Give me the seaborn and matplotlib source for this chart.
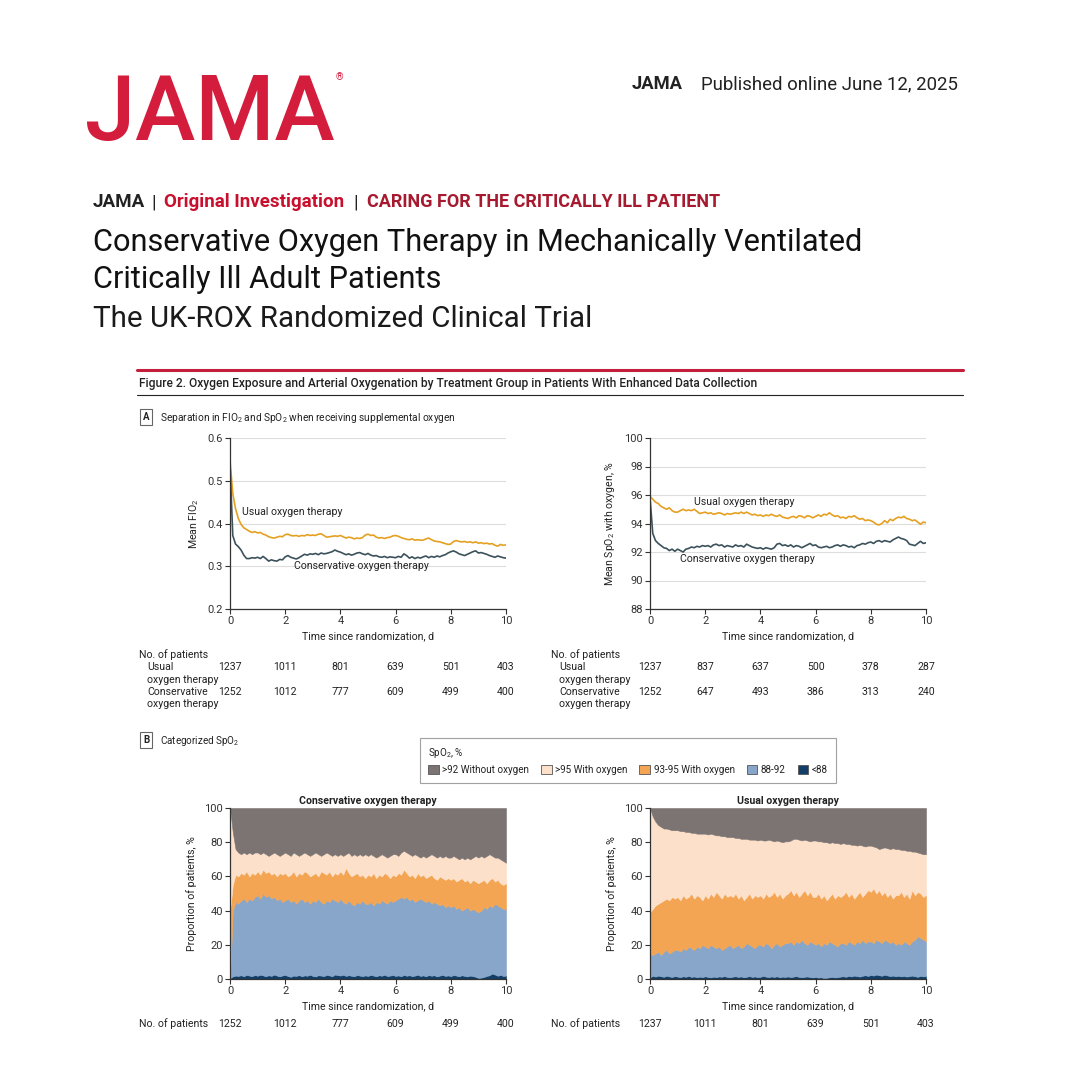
import numpy as np
import matplotlib
matplotlib.use('Agg')
import matplotlib.pyplot as plt
import matplotlib.transforms as mtransforms
from matplotlib.patches import Patch
from matplotlib.ticker import FormatStrFormatter
import seaborn as sns

# ---- data (0.1-day grid, days 0-10) ----
days = np.round(np.arange(0, 10.01, 0.1), 1)
day_ticks = [0, 2, 4, 6, 8, 10]

fio2_usual = [
    0.548, 0.470, 0.435, 0.412, 0.398, 0.390, 0.386, 0.382, 0.379, 0.381,
    0.378, 0.379, 0.375, 0.373, 0.369, 0.367, 0.366, 0.368, 0.370, 0.369,
    0.374, 0.375, 0.372, 0.371, 0.372, 0.370, 0.372, 0.371, 0.374, 0.372,
    0.373, 0.372, 0.375, 0.376, 0.372, 0.368, 0.369, 0.370, 0.371, 0.370,
    0.372, 0.369, 0.366, 0.368, 0.367, 0.364, 0.366, 0.365, 0.367, 0.373,
    0.375, 0.372, 0.373, 0.368, 0.366, 0.367, 0.365, 0.367, 0.368, 0.371,
    0.372, 0.370, 0.367, 0.365, 0.363, 0.362, 0.364, 0.361, 0.362, 0.361,
    0.361, 0.364, 0.366, 0.362, 0.359, 0.358, 0.357, 0.355, 0.353, 0.351,
    0.352, 0.358, 0.360, 0.358, 0.357, 0.358, 0.356, 0.357, 0.355, 0.357,
    0.354, 0.355, 0.353, 0.354, 0.352, 0.353, 0.349, 0.347, 0.351, 0.349,
    0.350]
fio2_conservative = [
    0.540, 0.372, 0.352, 0.346, 0.338, 0.326, 0.318, 0.318, 0.320, 0.319,
    0.321, 0.318, 0.323, 0.318, 0.312, 0.315, 0.313, 0.312, 0.316, 0.315,
    0.322, 0.325, 0.321, 0.319, 0.317, 0.320, 0.324, 0.328, 0.326, 0.329,
    0.328, 0.330, 0.327, 0.331, 0.329, 0.330, 0.332, 0.334, 0.338, 0.335,
    0.333, 0.330, 0.327, 0.329, 0.326, 0.328, 0.331, 0.332, 0.329, 0.327,
    0.330, 0.326, 0.324, 0.325, 0.322, 0.321, 0.323, 0.320, 0.322, 0.321,
    0.320, 0.323, 0.321, 0.329, 0.325, 0.319, 0.322, 0.318, 0.321, 0.319,
    0.322, 0.324, 0.320, 0.323, 0.321, 0.324, 0.322, 0.325, 0.327, 0.331,
    0.334, 0.336, 0.333, 0.329, 0.327, 0.325, 0.328, 0.331, 0.334, 0.336,
    0.331, 0.332, 0.330, 0.328, 0.325, 0.323, 0.321, 0.324, 0.322, 0.320,
    0.319]
spo2_usual = [
    95.9, 95.7, 95.5, 95.4, 95.2, 95.1, 95.0, 95.1, 94.9, 94.8,
    94.8, 94.9, 95.0, 94.9, 94.95, 94.9, 95.0, 94.85, 94.7, 94.75,
    94.8, 94.7, 94.75, 94.65, 94.7, 94.75, 94.7, 94.6, 94.7, 94.65,
    94.7, 94.75, 94.7, 94.8, 94.7, 94.8, 94.7, 94.6, 94.65, 94.55,
    94.6, 94.5, 94.6, 94.55, 94.65, 94.55, 94.5, 94.6, 94.45, 94.4,
    94.35, 94.45, 94.5, 94.4, 94.55, 94.5, 94.4, 94.55, 94.5, 94.4,
    94.5, 94.6, 94.5, 94.65, 94.6, 94.75, 94.6, 94.5, 94.55, 94.4,
    94.45, 94.35, 94.5, 94.45, 94.55, 94.4, 94.3, 94.35, 94.2, 94.25,
    94.2, 94.1, 93.95, 93.9, 94.0, 94.2, 94.05, 94.3, 94.2, 94.35,
    94.45, 94.4, 94.5, 94.35, 94.3, 94.2, 94.25, 94.1, 93.95, 94.1,
    94.05]
spo2_conservative = [
    95.8, 93.3, 92.8, 92.6, 92.45, 92.3, 92.25, 92.1, 92.2, 92.05,
    92.2, 92.1, 92.0, 92.2, 92.25, 92.35, 92.3, 92.4, 92.35, 92.45,
    92.4, 92.45, 92.35, 92.5, 92.55, 92.45, 92.5, 92.35, 92.45, 92.4,
    92.35, 92.5, 92.4, 92.45, 92.35, 92.55, 92.45, 92.35, 92.3, 92.25,
    92.3, 92.2, 92.3, 92.25, 92.2, 92.3, 92.55, 92.6, 92.45, 92.5,
    92.4, 92.5, 92.35, 92.45, 92.4, 92.3, 92.4, 92.5, 92.6, 92.45,
    92.5, 92.35, 92.3, 92.35, 92.4, 92.3, 92.35, 92.45, 92.5, 92.4,
    92.5, 92.45, 92.35, 92.4, 92.3, 92.45, 92.5, 92.6, 92.55, 92.65,
    92.7, 92.6, 92.75, 92.8, 92.7, 92.8, 92.75, 92.7, 92.85, 92.95,
    93.05, 92.95, 92.9, 92.8, 92.55, 92.5, 92.45, 92.6, 92.75, 92.6,
    92.65]

# categorized SpO2: cumulative % of patients at or below each band edge
cons_below_88 = [
    0.5, 1.5, 2.0, 1.8, 2.2, 1.6, 2.4, 2.0, 1.7, 2.3,
    1.9, 2.5, 2.1, 1.6, 2.2, 1.8, 2.6, 2.0, 1.5, 2.1,
    2.4, 1.7, 1.3, 2.0, 1.8, 2.3, 1.6, 2.1, 1.9, 2.5,
    1.8, 1.5, 2.2, 2.0, 1.7, 2.4, 2.1, 1.6, 2.6, 2.3,
    2.0, 2.5, 1.8, 2.2, 1.9, 1.6, 2.3, 2.0, 1.7, 2.1,
    1.8, 2.4, 2.0, 1.6, 2.2, 1.9, 2.5, 1.7, 2.0, 2.3,
    1.8, 2.1, 1.6, 2.4, 1.9, 2.2, 1.7, 2.0, 2.5, 1.8,
    2.1, 1.6, 2.3, 1.9, 2.2, 1.5, 2.0, 2.4, 1.8, 2.1,
    1.7, 2.3, 2.0, 1.6, 2.2, 1.8, 1.5, 2.0, 1.7, 1.3,
    0.6, 0.8, 1.2, 1.8, 2.2, 3.2, 2.6, 1.9, 2.4, 1.8,
    2.0]
cons_upto_92 = [
    0.5, 40, 45, 44, 46, 47, 45, 47, 46, 48,
    49, 47, 50, 48, 49, 47, 48, 46, 47, 45,
    46, 47, 45, 46, 44, 46, 47, 45, 46, 44,
    46, 45, 47, 45, 44, 46, 45, 47, 46, 45,
    47, 45, 44, 46, 44, 43, 45, 44, 46, 44,
    44, 45, 43, 45, 44, 46, 45, 44, 46, 45,
    46, 47, 48, 47, 48, 46, 47, 45, 46, 47,
    46, 45, 46, 44, 45, 44, 43, 44, 42, 43,
    42, 43, 41, 42, 40, 41, 42, 40, 41, 40,
    39, 40, 42, 41, 43, 42, 44, 43, 42, 41,
    41]
cons_upto_95 = [
    40, 55, 61, 60, 62, 61, 63, 60, 62, 61,
    63, 61, 64, 62, 63, 61, 62, 60, 62, 61,
    62, 60, 61, 63, 60, 62, 61, 63, 62, 60,
    61, 62, 60, 63, 62, 61, 63, 60, 62, 61,
    63, 61, 65, 62, 60, 61, 62, 60, 61, 59,
    61, 60, 62, 59, 61, 60, 62, 61, 59, 61,
    60, 62, 61, 64, 62, 60, 61, 59, 62, 60,
    61, 59, 60, 61, 59, 58, 60, 59, 58, 59,
    58, 59, 57, 58, 59, 57, 58, 56, 58, 57,
    56, 57, 58, 56, 58, 59, 57, 58, 56, 55,
    56]
cons_with_oxygen = [
    100, 86, 76, 74, 73, 74, 73, 74, 73, 74,
    74, 73, 74, 73, 72, 73, 74, 73, 72, 73,
    74, 73, 72, 74, 73, 72, 73, 74, 73, 72,
    73, 74, 73, 72, 73, 74, 73, 72, 73, 72,
    73, 72, 73, 74, 72, 73, 72, 73, 72, 73,
    72, 73, 72, 71, 72, 73, 72, 71, 72, 73,
    73, 72, 74, 75, 74, 73, 72, 73, 72, 71,
    72, 71, 72, 73, 72, 71, 72, 71, 72, 71,
    71, 72, 71, 70, 71, 70, 71, 70, 71, 72,
    71, 72, 71, 72, 73, 72, 71, 71, 70, 69,
    68]

usual_below_88 = [
    1.0, 1.8, 1.4, 2.0, 1.6, 1.3, 1.9, 1.5, 1.2, 1.7,
    1.4, 1.1, 1.6, 1.3, 1.8, 1.2, 1.5, 1.0, 1.4, 1.1,
    1.6, 1.2, 0.9, 1.4, 1.1, 1.5, 1.3, 1.7, 1.2, 1.0,
    1.4, 1.6, 1.2, 1.5, 1.0, 1.3, 1.7, 1.2, 1.5, 1.1,
    1.3, 1.8, 1.4, 1.1, 1.5, 1.2, 1.6, 1.0, 1.4, 1.2,
    1.5, 1.1, 1.4, 1.7, 1.2, 1.0, 1.3, 1.5, 1.1, 0.9,
    1.2, 0.8, 1.0, 0.5, 0.7, 1.0, 1.2, 0.9, 1.1, 1.4,
    1.6, 1.3, 1.8, 1.5, 2.0, 1.7, 1.4, 1.9, 2.2, 1.8,
    2.3, 2.0, 2.6, 2.2, 1.9, 2.5, 2.1, 1.7, 2.0, 1.6,
    1.9, 1.5, 1.8, 1.4, 1.7, 2.0, 1.6, 1.3, 1.8, 1.5,
    1.7]
usual_upto_92 = [
    15, 14, 15, 16, 14, 16, 17, 15, 16, 17,
    17, 16, 18, 17, 19, 18, 17, 19, 18, 20,
    19, 18, 20, 19, 18, 19, 17, 18, 19, 20,
    18, 19, 20, 18, 19, 21, 20, 19, 18, 20,
    20, 19, 21, 20, 18, 20, 21, 19, 20, 21,
    21, 22, 20, 22, 21, 23, 21, 20, 22, 21,
    20, 21, 19, 21, 20, 22, 21, 20, 19, 21,
    21, 20, 22, 21, 20, 22, 21, 23, 21, 22,
    22, 21, 23, 22, 21, 23, 22, 21, 22, 20,
    21, 20, 22, 21, 20, 22, 23, 25, 24, 23,
    22]
usual_upto_95 = [
    39, 41, 43, 44, 45, 46, 47, 46, 48, 47,
    48, 46, 49, 47, 48, 50, 47, 49, 48, 46,
    49, 47, 50, 48, 51, 49, 47, 50, 48, 49,
    48, 50, 47, 49, 46, 48, 50, 47, 49, 48,
    49, 47, 50, 48, 49, 51, 48, 50, 47, 49,
    50, 52, 49, 51, 48, 50, 52, 49, 51, 48,
    48, 50, 47, 49, 46, 48, 50, 47, 49, 48,
    49, 51, 48, 50, 47, 49, 51, 48, 50, 52,
    51, 53, 50, 52, 49, 51, 48, 50, 47, 49,
    49, 51, 48, 50, 47, 52, 49, 51, 50, 48,
    49]
usual_with_oxygen = [
    100, 95, 92, 90, 89, 88, 88, 87.5, 87, 87,
    87, 86.5, 86.5, 86, 86, 85.5, 85.5, 85, 85, 85,
    85, 84.5, 85, 84.5, 84, 84, 83.5, 83.5, 83, 83,
    83, 82.5, 82.5, 82, 82, 82, 81.5, 81.5, 81.5, 81,
    81.5, 81, 81, 81.5, 81, 80.5, 81, 80.5, 80, 80.5,
    80.5, 81, 82, 82, 81.5, 81, 81.5, 81, 80.5, 81,
    81, 80.5, 80.5, 80, 80, 79.5, 80, 79.5, 79.5, 79,
    79.5, 79, 79, 78.5, 78.5, 78, 78.5, 78, 77.5, 78,
    78, 77.5, 77, 76, 76.5, 77, 76.5, 76, 76.5, 76,
    76, 75.5, 75.5, 75, 75, 74.5, 74.5, 74, 73.5, 73,
    73]

n_fio2_usual = [1237, 1011, 801, 639, 501, 403]
n_fio2_conservative = [1252, 1012, 777, 609, 499, 400]
n_spo2_usual = [1237, 837, 637, 500, 378, 287]
n_spo2_conservative = [1252, 647, 493, 386, 313, 240]

band_labels = ['>92 Without oxygen', '>95 With oxygen', '93-95 With oxygen', '88-92', '<88']
band_colors = ['#7b7472', '#fde0c9', '#f3a553', '#87a6c9', '#123e67']

USUAL = '#e5a021'
CONS = '#3b515b'
RED = '#d41c3d'
TXT = '#222222'
AXC = '#333333'
FS = 7.6  # chart text size

sns.set_theme(style='white')
plt.rcParams['font.family'] = ['Roboto', 'DejaVu Sans']
plt.rcParams['mathtext.default'] = 'regular'

W = H = 1080
fig = plt.figure(figsize=(10.8, 10.8), dpi=100)
fig.patch.set_facecolor('white')
renderer = fig.canvas.get_renderer()


def fx(x):
    return x / W


def fy(y):
    return 1 - y / H


def fit_text(x, y, s, width, size=12, **kw):
    # scale the font so the text spans the width measured on the reference
    t = fig.text(fx(x), fy(y), s, fontsize=size, va='baseline', **kw)
    w = t.get_window_extent(renderer).width
    t.set_fontsize(size * width / w)
    return t


def label(x, y, s, size=FS, **kw):
    kw.setdefault('color', TXT)
    kw.setdefault('va', 'center')
    return fig.text(fx(x), fy(y), s, fontsize=size, **kw)


def make_axes(x0, x1, y0, y1):
    return fig.add_axes([fx(x0), fy(y1), (x1 - x0) / W, (y1 - y0) / H])


def style_axes(ax, ylim, yticks, grid, ylabel):
    ax.set_xlim(0, 10)
    ax.set_ylim(*ylim)
    ax.set_xticks(day_ticks)
    ax.set_yticks(yticks)
    for s in ['top', 'right']:
        ax.spines[s].set_visible(False)
    for s in ['left', 'bottom']:
        ax.spines[s].set_color(AXC)
        ax.spines[s].set_linewidth(0.9)
    ax.tick_params(length=3.5, width=0.8, color=AXC, labelsize=FS + 0.4, labelcolor=AXC,
                   pad=1.5, direction='out', left=True, bottom=True)
    if grid:
        ax.yaxis.grid(True, color='#dddddd', lw=0.8)
        ax.set_axisbelow(True)
    ax.set_xlabel('Time since randomization, d', fontsize=FS, color=TXT, labelpad=3.5)
    ax.set_ylabel(ylabel, fontsize=FS, color=TXT, labelpad=5)


def patients_row(ax, y, counts):
    trans = mtransforms.blended_transform_factory(ax.transData, fig.transFigure)
    for d, n in zip(day_ticks, counts):
        fig.text(d, fy(y), str(n), transform=trans, ha='center', va='center',
                 fontsize=FS, color=TXT)


# ---- header ----
fit_text(85, 140, 'JAMA', 250, size=60, color=RED, weight='medium')
label(336, 77, '®', size=7, color=RED)
fit_text(632, 89, 'JAMA', 51, weight='bold', color=TXT)
fit_text(701, 89, 'Published online June 12, 2025', 257, color=TXT)

h1 = fit_text(164, 207, 'Original Investigation', 180, weight='bold', color='#c8102e')
hs = h1.get_fontsize()
fig.text(fx(93), fy(207), 'JAMA', fontsize=hs, weight='bold', color=TXT, va='baseline')
fig.text(fx(151), fy(207), '|', fontsize=hs, color=TXT, va='baseline')
fig.text(fx(353), fy(207), '|', fontsize=hs, color=TXT, va='baseline')
fit_text(367, 207, 'CARING FOR THE CRITICALLY ILL PATIENT', 353, weight='bold', color='#a6192e')

t1 = fit_text(93, 251, 'Conservative Oxygen Therapy in Mechanically Ventilated', 769,
              color='#111111')
fig.text(fx(93), fy(288), 'Critically Ill Adult Patients', fontsize=t1.get_fontsize(),
         color='#111111', va='baseline')
fit_text(93, 327, 'The UK-ROX Randomized Clinical Trial', 498, color='#1a1a1a')

# ---- figure frame ----
fig.add_artist(plt.Line2D([fx(137), fx(963)], [fy(370), fy(370)], color='#c41e3a', lw=2.2))
fig.add_artist(plt.Line2D([fx(137), fx(963)], [fy(395), fy(395)], color='#222222', lw=0.8))
fit_text(139, 387, 'Figure 2. Oxygen Exposure and Arterial Oxygenation by Treatment Group '
         'in Patients With Enhanced Data Collection', 618, weight='medium', color=TXT)

box = dict(boxstyle='square,pad=0.3', fc='white', ec='#666666', lw=0.8)
label(146, 417, 'A', size=7, weight='bold', ha='center', bbox=box)
fit_text(160, 421, 'Separation in FIO$_2$ and SpO$_2$ when receiving supplemental oxygen', 295, color=TXT)
label(146, 740, 'B', size=7, weight='bold', ha='center', bbox=box)
fit_text(160, 744, 'Categorized SpO$_2$', 78, color=TXT)

# ---- panel A: FiO2 ----
ax1 = make_axes(230, 506, 438, 609)
sns.lineplot(x=days, y=fio2_usual, color=USUAL, lw=1.2, ax=ax1)
sns.lineplot(x=days, y=fio2_conservative, color=CONS, lw=1.2, ax=ax1)
style_axes(ax1, (0.2, 0.6), [0.2, 0.3, 0.4, 0.5, 0.6], True, 'Mean FIO$_2$')
ax1.yaxis.set_major_formatter(FormatStrFormatter('%.1f'))
ax1.text(0.43, 0.427, 'Usual oxygen therapy', fontsize=FS, color=TXT, va='center')
ax1.text(2.32, 0.301, 'Conservative oxygen therapy', fontsize=FS, color=TXT, va='center')

# ---- panel A: SpO2 ----
ax2 = make_axes(650, 926, 438, 609)
sns.lineplot(x=days, y=spo2_usual, color=USUAL, lw=1.2, ax=ax2)
sns.lineplot(x=days, y=spo2_conservative, color=CONS, lw=1.2, ax=ax2)
style_axes(ax2, (88, 100), [88, 90, 92, 94, 96, 98, 100], True, 'Mean SpO$_2$ with oxygen, %')
ax2.text(1.6, 95.5, 'Usual oxygen therapy', fontsize=FS, color=TXT, va='center')
ax2.text(1.09, 91.5, 'Conservative oxygen therapy', fontsize=FS, color=TXT, va='center')

for x0, ax, nu, nc in [(139, ax1, n_fio2_usual, n_fio2_conservative),
                       (551, ax2, n_spo2_usual, n_spo2_conservative)]:
    label(x0, 655, 'No. of patients')
    label(x0 + 8, 667, 'Usual')
    label(x0 + 8, 680, 'oxygen therapy')
    label(x0 + 8, 692, 'Conservative')
    label(x0 + 8, 704, 'oxygen therapy')
    patients_row(ax, 667, nu)
    patients_row(ax, 692, nc)

# ---- panel B: stacked categories ----
groups = [
    ('Conservative oxygen therapy', 230, 139, n_fio2_conservative,
     [cons_below_88, cons_upto_92, cons_upto_95, cons_with_oxygen]),
    ('Usual oxygen therapy', 650, 551, n_fio2_usual,
     [usual_below_88, usual_upto_92, usual_upto_95, usual_with_oxygen]),
]
for title, x0, tx, counts, edges in groups:
    ax = make_axes(x0, x0 + 276, 808, 979)
    e = np.array(edges, dtype=float)
    shares = [e[0], e[1] - e[0], e[2] - e[1], e[3] - e[2], 100 - e[3]]
    colors = band_colors[::-1]
    polys = ax.stackplot(days, *shares, colors=colors)
    for p, c in zip(polys, colors):
        p.set_edgecolor(c)
        p.set_linewidth(0.4)
    style_axes(ax, (0, 100), [0, 20, 40, 60, 80, 100], False, 'Proportion of patients, %')
    ax.set_title(title, fontsize=FS, weight='bold', color=TXT, pad=3)
    label(tx, 1024, 'No. of patients')
    patients_row(ax, 1024, counts)

handles = [Patch(facecolor=c, edgecolor='#555555', lw=0.6, label=l)
           for c, l in zip(band_colors, band_labels)]
leg = fig.legend(handles=handles, title='SpO$_2$, %', loc='upper left',
                 bbox_to_anchor=(fx(420), fy(738)), borderaxespad=0, ncol=5,
                 frameon=True, fancybox=False, edgecolor='#8a8a8a',
                 fontsize=7.1, title_fontsize=7.1,
                 handlelength=1.1, handleheight=1.1, handletextpad=0.35,
                 columnspacing=1.2, borderpad=0.8, alignment='left')
leg.get_frame().set_linewidth(0.8)
plt.setp(leg.get_texts(), color=TXT)
leg.get_title().set_color(TXT)

fig.savefig('out.png', dpi=100, facecolor='white')
